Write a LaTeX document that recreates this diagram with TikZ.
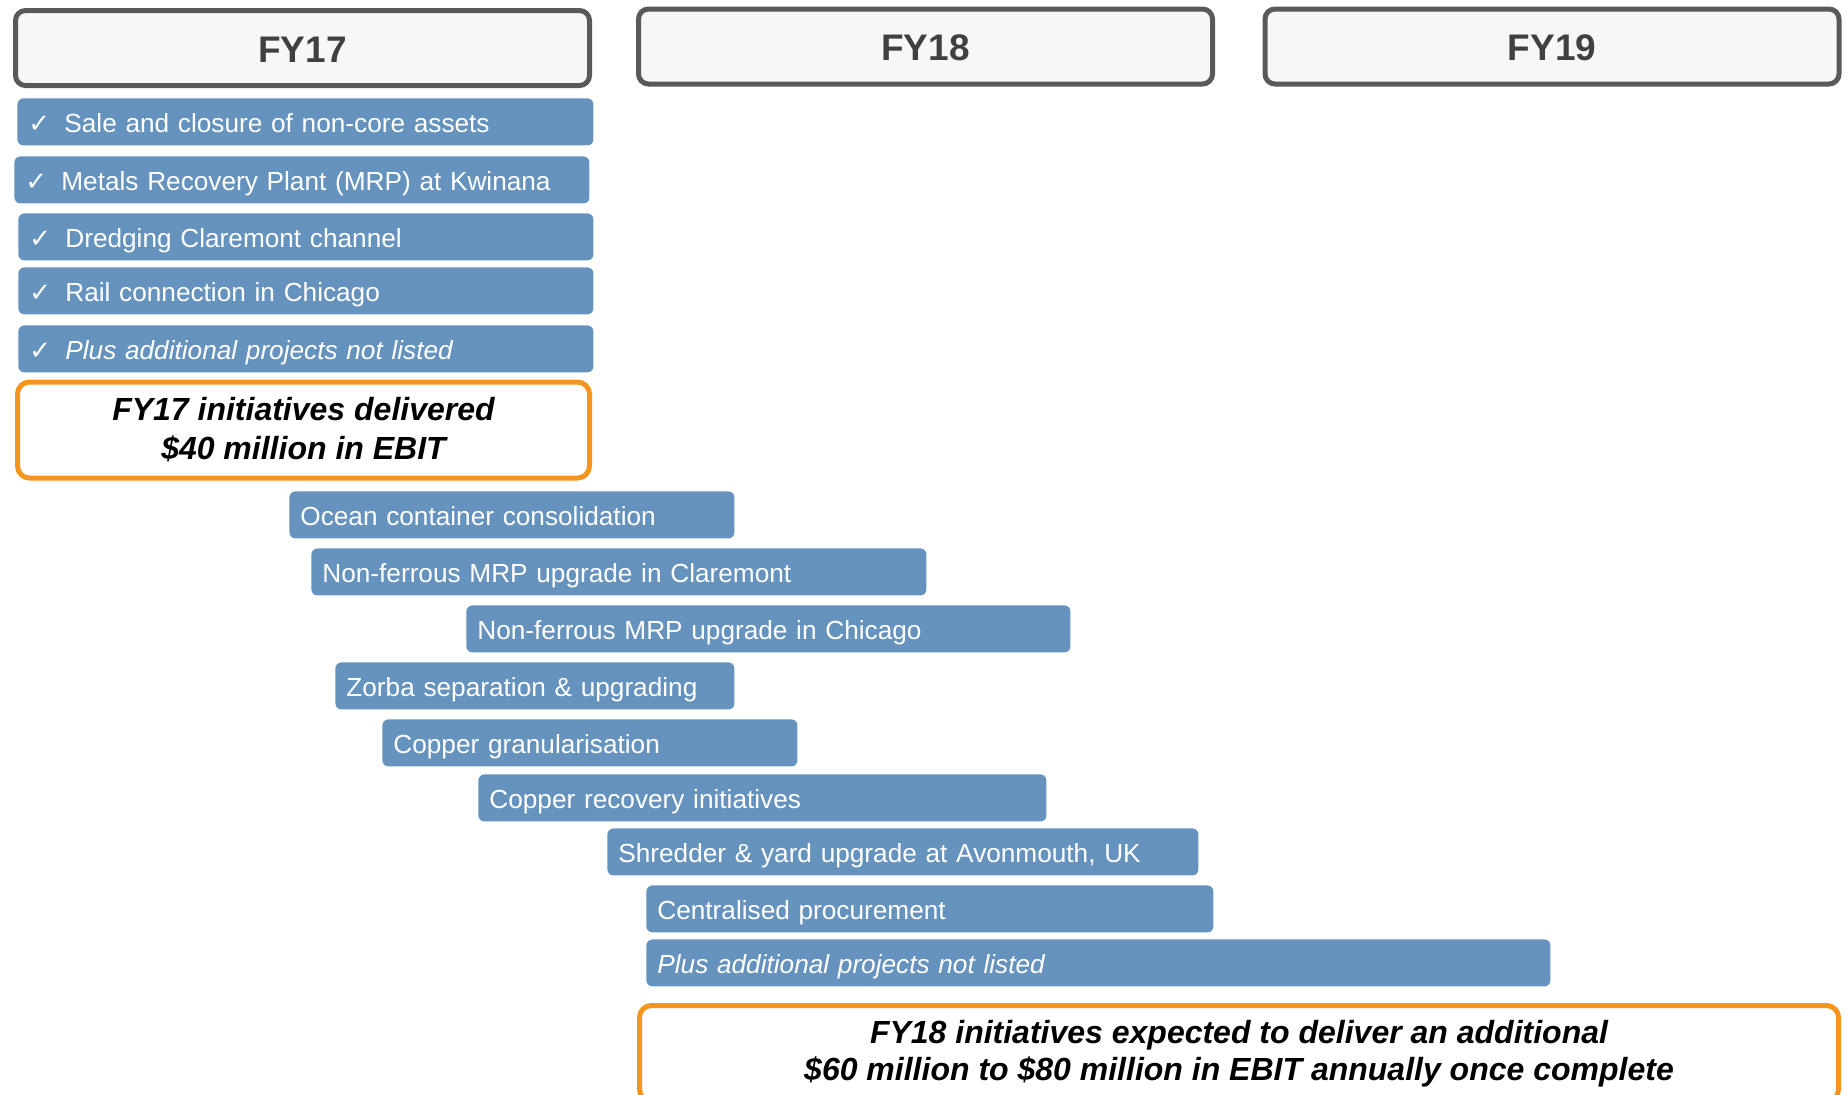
\documentclass[tikz,border=0pt]{standalone}
\usepackage{fontspec}
\setmainfont{Liberation Sans}
\newfontfamily\tickfont{DejaVu Sans}
\definecolor{barblue}{RGB}{102,147,189}
\definecolor{framegray}{RGB}{89,89,89}
\definecolor{titlegray}{RGB}{64,64,64}
\definecolor{boxorange}{RGB}{247,148,29}
\newcommand{\tick}{\makebox[18pt][l]{\tickfont\fontsize{13}{13}\selectfont ✓}}

\begin{document}
\begin{tikzpicture}[x=0.5pt,y=-0.5pt,
  year/.style={draw=framegray,line width=2.5pt,fill=gray!6,rounded corners=5pt,
    minimum width=287pt,minimum height=37.5pt,text=titlegray,
    font=\fontsize{18.5}{22}\selectfont\bfseries,text height=14pt,text depth=0pt},
  bar/.style={fill=barblue,rounded corners=3pt,anchor=north west,minimum height=23.5pt,
    inner xsep=5.5pt,inner ysep=0pt,align=left,text=white,
    font=\fontsize{13.1}{15.8}\selectfont,text height=10.5pt,text depth=0pt},
  result/.style={draw=boxorange,line width=2.5pt,fill=white,rounded corners=6pt,
    align=center,minimum height=48pt}]
\path[use as bounding box,clip] (0,0) rectangle (1847,1094);

% Years
\node[year] (fy17) at (302.5,48) {FY17};
\node[year] (fy18) at (925.5,46.5) {FY18};
\node[year] (fy19) at (1552,46.5) {FY19};

% FY17 projects
\foreach \n/\x/\y/\w/\t in {f1/17/98/277/{Sale and closure of non-core assets},
    f2/14/156/276.5/{Metals Recovery Plant (MRP) at Kwinana},
    f3/18/213/276.5/{Dredging Claremont channel},
    f4/18/267/276.5/{Rail connection in Chicago},
    f5/18/325/276.5/{\itshape Plus additional projects not listed}} {
    \node[bar,text width=\w pt] (\n) at (\x,\y) {\tick\t};
}
\node[result,minimum width=286pt,font=\fontsize{16}{19.5}\selectfont\bfseries\itshape]
    (res17) at (303.5,430) {FY17 initiatives delivered\\\$40 million in EBIT};

% FY18 projects
\foreach \n/\x/\y/\w/\t in {g1/289/491/211.5/{Ocean container consolidation},
    g2/311/548/296.5/{Non-ferrous MRP upgrade in Claremont},
    g3/466/605/291/{Non-ferrous MRP upgrade in Chicago},
    g4/335/662/188.5/{Zorba separation \& upgrading},
    g5/382/719/196.5/{Copper granularisation},
    g6/478/774/273/{Copper recovery initiatives},
    g7/607/828/284.5/{Shredder \& yard upgrade at Avonmouth, UK},
    g8/646/885/272.5/{Centralised procurement},
    g9/646/939/441/{\itshape Plus additional projects not listed}} {
    \node[bar,text width=\w pt] (\n) at (\x,\y) {\t};
}
\node[result,minimum width=599.5pt,font=\fontsize{16}{18.5}\selectfont\bfseries\itshape]
    (res18) at (1239,1053.5) {FY18 initiatives expected to deliver an additional\\
    \$60 million to \$80 million in EBIT annually once complete};
\end{tikzpicture}
\end{document}
